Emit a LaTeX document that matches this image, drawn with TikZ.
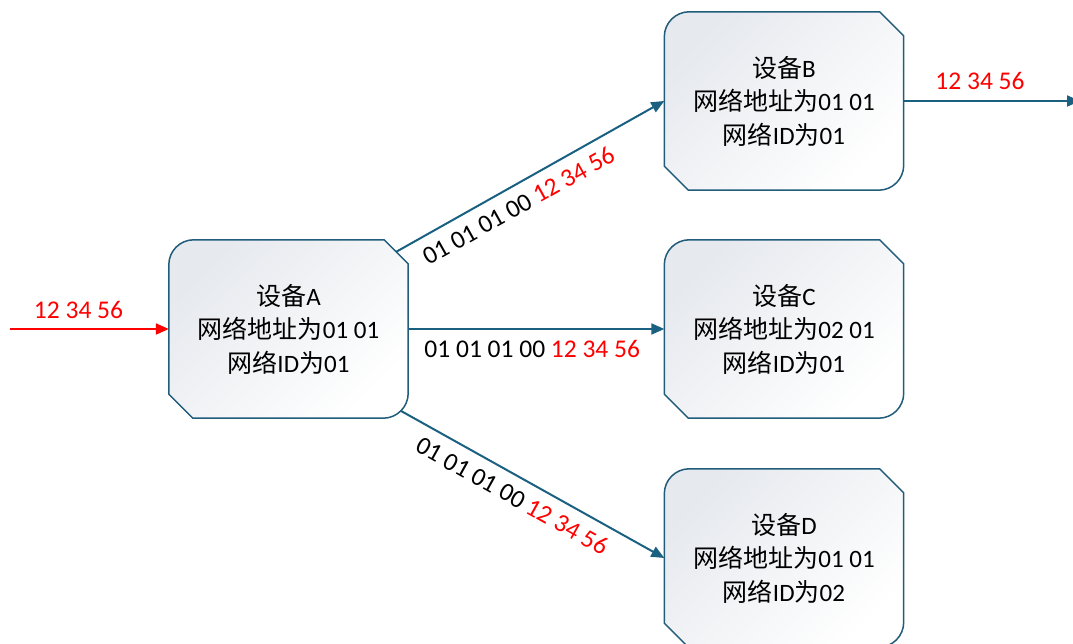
\documentclass[tikz,border=0pt]{standalone}
\usepackage{fontspec}
\setmainfont{Carlito}
\newfontfamily\cjk{Noto Sans CJK SC}
\usetikzlibrary{arrows.meta}
\definecolor{boxline}{RGB}{33,92,122}
\definecolor{arrowc}{RGB}{26,96,128}
\definecolor{shadec}{RGB}{230,233,238}
\definecolor{redc}{RGB}{255,0,0}
\newcommand\devshape[1]{%
  \path[draw=boxline, line width=1.5pt, top color=shadec, bottom color=white, shading angle=45]
    ([xshift=25pt]#1.north west) -- ([xshift=-24pt]#1.north east) -- ([yshift=-24pt]#1.north east)
    -- ([yshift=25pt]#1.south east) arc[start angle=0,end angle=-90,radius=25pt]
    -- ([xshift=24pt]#1.south west) -- ([yshift=24pt]#1.south west)
    -- ([yshift=-25pt]#1.north west) arc[start angle=180,end angle=90,radius=25pt] -- cycle;}
\begin{document}
\begin{tikzpicture}[x=1pt,y=1pt,
  devbox/.style={minimum width=239pt, minimum height=178pt, inner sep=0pt},
  devtext/.style={align=center, inner sep=0pt, font=\fontsize{25}{33.5}\selectfont},
  conn/.style={draw=arrowc, line width=2pt, -{Triangle[length=13pt,width=11pt]}},
  redconn/.style={draw=redc, line width=2pt, -{Triangle[length=13pt,width=11pt]}},
  lab/.style={inner sep=4pt, font=\fontsize{25.5}{28}\selectfont},
  redlab/.style={lab, text=redc}]
\useasboundingbox (0,0) rectangle (1073,644);
\node[devbox] (A) at (288.5,315) {};
\node[devbox] (B) at (784,543) {};
\node[devbox] (C) at (784,315) {};
\node[devbox] (D) at (784,86) {};
\devshape{A}\devshape{B}\devshape{C}\devshape{D}
\node[devtext] (At) at (A) {{\cjk 设备}A\\{\cjk 网络地址为}01 01\\{\cjk 网络}ID{\cjk 为}01};
\node[devtext] (Bt) at (B) {{\cjk 设备}B\\{\cjk 网络地址为}01 01\\{\cjk 网络}ID{\cjk 为}01};
\node[devtext] (Ct) at (C) {{\cjk 设备}C\\{\cjk 网络地址为}02 01\\{\cjk 网络}ID{\cjk 为}01};
\node[devtext] (Dt) at (D) {{\cjk 设备}D\\{\cjk 网络地址为}01 01\\{\cjk 网络}ID{\cjk 为}02};
\coordinate (in0) at (10,315);
\coordinate (out0) at (1080,543);
\draw[redconn] (in0) -- (A.west);
\node[redlab] (lin) at (78.5,334) {12 34 56};
\draw[conn] (B.east) -- (out0);
\node[redlab] (lout) at (980,563) {12 34 56};
\draw[conn] (A.east) -- node[lab, below=6pt, xshift=-4pt] (lac) {01 01 01 00 \textcolor{redc}{12 34 56}} (C.west);
\draw[conn] ([xshift=-12pt,yshift=-12pt]A.north east) -- node[lab, sloped, below=6pt, pos=0.42] (lab2) {01 01 01 00 \textcolor{redc}{12 34 56}} (B.west);
\draw[conn] ([xshift=-7.3pt,yshift=7.3pt]A.south east) -- node[lab, sloped, below=6pt, pos=0.46] (lad) {01 01 01 00 \textcolor{redc}{12 34 56}} (D.west);
\end{tikzpicture}
\end{document}
